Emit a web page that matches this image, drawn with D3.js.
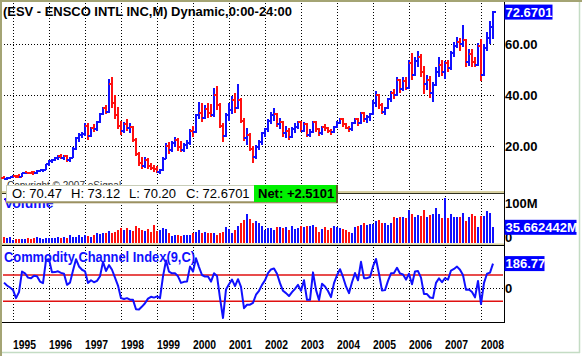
<!DOCTYPE html>
<html><head><meta charset="utf-8">
<script src="https://cdn.jsdelivr.net/npm/d3@7"></script>
<style>
html,body{margin:0;padding:0;background:#fff;}
svg{display:block;}
text{font-family:"Liberation Sans",Arial,sans-serif;}
</style></head><body>
<svg id="c" width="582" height="356"></svg>
<script>
// ---- data (monthly bars, Oct 1994 .. May 2008) ----
const firstMonth = [1994, 9];
const openP = [7.6,7.1,7.4,
7.8,8.3,8.2,8.0,9.2,9.6,9.4,9.6,9.3,10.2,10.4,10.6,
12.8,14.2,14.6,15.2,16.0,15.2,16.0,14.4,15.4,19.0,23.0,24.2,
24.8,28.0,24.0,27.0,26.5,29.5,32.5,35.0,33.5,44.5,37.0,32.0,
28.0,26.0,28.5,27.0,27.5,22.5,17.0,13.5,12.0,14.5,12.0,11.5,
11.0,9.8,10.5,15.0,20.0,18.5,21.0,22.5,19.5,18.5,20.5,21.0,
26.0,25.5,32.0,33.0,31.0,34.5,33.0,32.0,40.0,36.0,28.0,24.0,
32.0,34.0,38.0,35.0,38.0,30.0,23.0,24.5,19.0,15.5,19.5,21.5,
25.0,26.5,30.0,32.0,32.5,28.5,29.5,25.0,26.0,23.5,26.5,27.5,
29.5,26.0,28.5,24.5,25.5,29.5,26.5,25.0,27.5,27.0,26.0,25.5,
27.5,29.0,30.5,28.5,27.0,26.5,29.0,30.5,29.0,33.0,30.5,31.5,
32.5,37.0,40.0,36.0,33.5,35.0,38.5,41.0,40.0,46.0,42.5,45.5,
43.0,52.5,48.0,53.5,55.0,49.0,44.5,46.0,41.0,44.0,49.0,52.0,
49.0,52.5,50.5,56.5,59.5,61.0,60.0,61.5,53.0,56.0,53.0,52.0,
59.5,48.0,58.5,62.5,67.0];
const highP = [8.3,7.7,8.0,
8.6,8.5,8.8,9.4,9.8,9.9,9.8,10.0,10.4,10.6,10.8,13.0,
14.5,15.0,15.6,16.4,16.8,16.5,16.6,15.8,19.5,23.5,25.0,25.5,
29.0,29.0,27.5,28.5,30.0,33.0,35.5,36.0,46.2,47.2,40.0,35.5,
30.0,29.5,30.5,29.0,28.0,23.0,17.5,15.5,15.5,15.2,13.5,12.5,
12.2,11.0,15.5,21.0,21.5,22.0,23.5,23.0,22.0,21.0,22.5,26.5,
28.0,32.5,37.5,37.0,36.0,37.0,36.5,43.0,43.5,37.0,29.0,33.0,
37.0,39.5,41.0,44.5,39.0,31.0,27.0,25.0,20.0,20.5,22.5,25.5,
27.0,30.5,33.5,35.0,33.0,31.0,30.0,28.0,27.0,27.5,29.0,30.0,
30.0,29.5,29.0,26.5,30.0,30.0,27.0,28.0,28.5,27.5,26.5,28.0,
30.0,31.0,31.0,29.0,28.0,29.5,31.0,31.0,33.5,33.5,32.0,33.0,
38.0,41.5,40.5,37.0,35.5,39.0,41.5,42.5,47.0,46.5,47.0,47.0,
54.0,56.5,55.0,57.5,56.0,51.5,48.0,47.5,45.0,51.0,55.0,54.0,
53.5,54.0,57.5,61.0,63.0,62.5,67.5,62.0,58.0,58.0,55.0,60.5,
62.0,60.0,65.0,69.0,73.12];
const lowP = [6.9,6.8,7.0,
7.5,7.6,7.8,7.9,8.8,8.9,8.8,9.0,9.1,9.6,9.8,10.4,
12.2,13.4,14.0,14.6,14.8,14.6,13.8,13.9,15.2,18.6,21.5,23.0,
24.0,22.5,23.5,25.5,26.0,29.0,32.0,32.5,33.0,35.0,30.5,26.5,
24.5,25.0,26.0,25.0,21.5,16.0,12.0,11.0,11.5,11.0,10.5,9.8,
9.5,9.0,10.2,14.8,17.0,17.5,19.5,18.0,17.5,17.5,19.0,20.5,
23.5,25.0,30.5,29.5,30.5,31.0,31.5,31.5,34.0,27.0,21.5,23.5,
30.0,32.5,33.0,34.5,29.0,22.0,20.5,18.0,13.5,15.0,18.5,20.5,
23.5,25.5,28.5,30.0,27.5,26.5,23.5,23.0,22.5,23.0,25.0,26.5,
25.5,25.5,23.5,23.5,25.0,25.5,24.0,24.5,26.0,25.0,24.5,25.0,
27.0,28.5,27.5,26.5,25.5,26.0,28.5,28.0,28.5,29.5,29.0,30.0,
32.0,35.5,34.5,32.5,32.0,34.5,37.5,38.5,39.5,41.0,41.5,42.0,
42.5,46.0,47.5,51.0,47.0,40.5,42.0,39.0,37.5,43.5,47.0,47.5,
46.5,49.0,50.0,55.0,58.5,57.5,59.0,51.0,51.5,51.0,51.0,51.5,
45.5,47.5,57.5,60.0,62.0];
const closeP = [7.1,7.4,7.8,
8.3,7.9,8.0,9.2,9.5,9.2,9.1,9.3,10.2,10.4,10.6,12.8,
14.2,14.6,15.2,15.8,15.2,16.0,14.4,15.4,19.0,23.0,24.2,24.8,
28.0,24.0,27.0,26.5,29.5,32.5,35.0,33.5,44.5,37.0,32.0,28.0,
26.0,28.5,27.0,27.5,22.5,17.0,13.5,12.0,14.5,12.0,11.5,11.0,
9.8,10.5,15.0,20.0,18.5,21.0,22.5,19.5,18.5,20.5,21.0,26.0,
25.5,32.0,33.0,31.0,34.5,33.0,32.0,40.0,36.0,28.0,24.0,32.0,
34.0,38.0,35.0,38.0,30.0,23.0,24.5,19.0,15.5,19.5,21.5,25.0,
26.5,30.0,32.0,32.5,28.5,29.5,25.0,26.0,23.5,26.5,27.5,29.5,
26.0,28.5,24.5,25.5,29.5,26.5,25.0,27.5,27.0,26.0,25.5,27.5,
29.0,30.5,28.5,27.0,26.5,29.0,30.5,29.0,33.0,30.5,31.5,32.5,
37.0,40.0,36.0,33.5,35.0,38.5,41.0,40.0,46.0,42.5,45.5,43.0,
52.5,48.0,53.5,55.0,49.0,44.5,46.0,41.0,44.0,49.0,52.0,49.0,
52.5,50.5,56.5,59.5,61.0,60.0,61.5,53.0,56.0,53.0,52.0,59.5,
48.0,58.5,62.5,67.0,72.6701];
const volumeM = [13,12,14,
7,8,8,9,10,11,9,11,13,11,9,11,
11,11,12,13,11,14,11,18,14,13,18,14,
18,16,14,18,22,20,23,22,27,23,26,30,
33,30,33,30,27,39,33,30,27,32,26,41,
27,30,33,32,22,16,18,18,16,18,18,18,
22,26,30,22,26,23,22,22,18,22,26,36,
31,23,30,39,45,52,65,54,45,51,46,39,
30,33,33,30,37,37,33,37,30,39,31,33,
39,36,39,39,41,37,25,31,36,30,33,39,
36,33,31,30,26,23,36,39,42,45,42,43,
43,50,52,45,45,42,46,60,56,60,58,56,
75,67,60,64,61,75,60,64,67,79,66,56,
103,56,67,60,60,60,69,51,60,65,61,37,
61,61,73,69,35.662442];
const cciValues = [42,20,5,
-13,-76,-30,126,113,80,75,95,90,50,38,214,
220,120,122,128,116,110,25,42,135,220,165,140,
128,40,60,45,55,90,200,130,175,140,80,20,
-76,-83,-76,-88,-89,-160,-162,-140,-115,-80,-66,-72,
-63,-76,90,210,125,113,113,90,40,48,50,164,
126,227,160,100,88,88,50,113,93,-76,-227,-10,
30,65,15,68,10,-152,-126,-126,-112,-50,-20,25,
60,115,142,150,110,38,-20,-38,-60,-30,-5,25,
-20,60,-89,-89,120,-13,-90,33,13,-22,-68,38,
98,144,85,13,-38,45,115,60,200,76,76,85,
165,222,110,-18,-15,55,113,116,155,112,104,65,
110,30,126,130,80,-45,-45,-71,-76,40,75,45,
76,65,134,146,164,140,100,-13,-10,-30,-70,55,
-121,40,110,118,186.77];
const yearLabels = ["1995","1996","1997","1998","1999","2000","2001","2002","2003","2004","2005","2006","2007","2008"];
const priceTicks = [20, 40, 60];
const volumeTicks = [{v:100, label:"100M"}, {v:0, label:"0"}];
const cciLevels = [100, -100];
const lastPriceLabel = "72.6701";
const lastVolumeLabel = "35.662442M";
const lastCciLabel = "186.77";
const titleText = "(ESV - ENSCO INTL INC,M) Dynamic,0:00-24:00";
const quoteItems = [{k:"O:", v:"70.47"},{k:"H:", v:"73.12"},{k:"L:", v:"70.20"},{k:"C:", v:"72.6701"}];
const netText = "Net: +2.5101";

// ---- drawing ----
const svg = d3.select("#c");
const BLUE = "#1010ff", RED = "#ff1010";
const months = d3.utcMonth.range(new Date(Date.UTC(firstMonth[0], firstMonth[1], 1)), new Date(Date.UTC(2008, 5, 1)));
const bars = months.map((m, i) => ({m, o: openP[i], h: highP[i], l: lowP[i], c: closeP[i], v: volumeM[i], cci: cciValues[i]}));

const x = d3.scalePoint().domain(months).range([4, 493]);
const yP = d3.scaleLinear().domain([20, 60]).range([146, 44.3]);
const yV = d3.scaleLinear().domain([0, 100]).range([243, 199]);
const yC = d3.scaleLinear().domain([-100, 100]).range([301.3, 275]);
const px = d => Math.round(x(d));
const yearX = yearLabels.map(y => px(new Date(Date.UTC(+y, 0, 1))));

svg.append("rect").attr("width", 582).attr("height", 356).attr("fill", "#fff");

// outer frame
svg.append("rect").attr("x", 0).attr("y", 0).attr("width", 2).attr("height", 356).attr("fill", "#a4a474");
svg.append("rect").attr("x", 0).attr("y", 0).attr("width", 582).attr("height", 2).attr("fill", "#a4a474");
svg.append("line").attr("x1", 579.5).attr("x2", 579.5).attr("y1", 2).attr("y2", 353).attr("stroke", "#c4dcc4").attr("stroke-width", 1.5);
svg.append("line").attr("x1", 2).attr("x2", 580).attr("y1", 352.5).attr("y2", 352.5).attr("stroke", "#c4dcc4").attr("stroke-width", 1.5);

const dotted = (g, x1, y1, x2, y2) => g.append("line")
  .attr("x1", x1).attr("y1", y1).attr("x2", x2).attr("y2", y2)
  .attr("stroke", "#000").attr("stroke-width", 1).attr("stroke-dasharray", "1,2");

// grid
const grid = svg.append("g");
yearX.forEach(xx => {
  dotted(grid, xx + 0.5, 3, xx + 0.5, 191);
  dotted(grid, xx + 0.5, 196, xx + 0.5, 243);
  dotted(grid, xx + 0.5, 247, xx + 0.5, 325);
});
priceTicks.forEach(t => { const yy = Math.round(yP(t)) + 0.5; dotted(grid, 4, yy, 495, yy); });
dotted(grid, 4, Math.round(yV(100)) + 0.5, 495, Math.round(yV(100)) + 0.5);
dotted(grid, 4, Math.round(yC(0)) + 0.5, 503, Math.round(yC(0)) + 0.5);

// price OHLC bars
const pg = svg.append("g");
bars.forEach(b => {
  const xi = px(b.m), col = b.c >= b.o ? BLUE : RED;
  const yh = yP(b.h), yl = yP(b.l);
  pg.append("rect").attr("x", xi - 1).attr("y", Math.round(yh)).attr("width", 2).attr("height", Math.max(2, Math.round(yl) - Math.round(yh))).attr("fill", col);
  pg.append("rect").attr("x", xi - 3).attr("y", Math.round(yP(b.o)) - 1).attr("width", 2).attr("height", 2).attr("fill", col);
  pg.append("rect").attr("x", xi + 1).attr("y", Math.round(yP(b.c)) - 1).attr("width", 2).attr("height", 2).attr("fill", col);
});

// volume
const vg = svg.append("g");
vg.append("text").attr("x", 4).attr("y", 208).attr("font-size", 14).attr("font-weight", "bold").attr("fill", BLUE).text("Volume");
bars.forEach(b => {
  const xi = px(b.m), col = b.c >= b.o ? BLUE : RED;
  const yt = Math.round(yV(b.v));
  vg.append("rect").attr("x", xi - 1).attr("y", yt).attr("width", 2).attr("height", 243 - yt).attr("fill", col);
});

// CCI
const cg = svg.append("g");
cciLevels.forEach(l => cg.append("line").attr("x1", 3).attr("x2", 503).attr("y1", yC(l)).attr("y2", yC(l)).attr("stroke", "#e01010").attr("stroke-width", 1.4));
cg.append("text").attr("x", 4).attr("y", 261.5).attr("font-size", 14).attr("font-weight", "bold").attr("fill", BLUE)
  .attr("textLength", 191).attr("lengthAdjust", "spacingAndGlyphs").text("Commodity Channel Index(9,C)");
cg.append("path").datum(bars).attr("fill", "none").attr("stroke", BLUE).attr("stroke-width", 2).attr("stroke-linejoin", "round")
  .attr("d", d3.line().x(b => px(b.m)).y(b => yC(b.cci)));

// separators and axes
svg.append("rect").attr("x", 2).attr("y", 191).attr("width", 502).attr("height", 2).attr("fill", "#d8d0a0");
svg.append("line").attr("x1", 2).attr("x2", 504).attr("y1", 193.5).attr("y2", 193.5).attr("stroke", "#303020");
svg.append("rect").attr("x", 2).attr("y", 243.5).attr("width", 502).attr("height", 1.5).attr("fill", "#d8d0a0");
svg.append("line").attr("x1", 2).attr("x2", 504).attr("y1", 245.5).attr("y2", 245.5).attr("stroke", "#000");
svg.append("line").attr("x1", 2).attr("x2", 504).attr("y1", 322.5).attr("y2", 322.5).attr("stroke", "#000");
svg.append("line").attr("x1", 504.5).attr("x2", 504.5).attr("y1", 2).attr("y2", 323).attr("stroke", "#000");

// year labels
svg.append("g").selectAll("text").data(yearLabels).join("text")
  .attr("x", (d, i) => yearX[i]).attr("y", 349).attr("font-size", 12.5).attr("font-weight", "bold").attr("fill", "#000")
  .attr("textLength", 23).attr("lengthAdjust", "spacingAndGlyphs").text(d => d);

// right-hand labels
const rl = svg.append("g").attr("font-size", 13).attr("font-weight", "bold");
priceTicks.forEach(t => rl.append("text").attr("x", 505).attr("y", yP(t) + 4.7).attr("fill", "#000").text(d3.format(".2f")(t)));
rl.append("text").attr("x", 505).attr("y", yV(100) + 9).attr("fill", "#000").text(volumeTicks[0].label);
rl.append("text").attr("x", 505).attr("y", 242).attr("fill", "#000").text(volumeTicks[1].label);
rl.append("text").attr("x", 505).attr("y", yC(0) + 4.7).attr("fill", "#000").text("0");
const tag = (yy, w, txt) => {
  rl.append("rect").attr("x", 504.5).attr("y", yy - 7.5).attr("width", w).attr("height", 15).attr("fill", "#0000ff");
  rl.append("text").attr("x", 505.5).attr("y", yy + 4.7).attr("fill", "#fff").text(txt);
};
tag(yP(closeP[closeP.length - 1]), 48, lastPriceLabel);
tag(yV(volumeM[volumeM.length - 1]), 72, lastVolumeLabel);
tag(yC(cciValues[cciValues.length - 1]), 40, lastCciLabel);

// title
svg.append("text").attr("x", 3).attr("y", 16).attr("font-size", 13).attr("font-weight", "bold").attr("fill", "#000")
  .attr("textLength", 289).attr("lengthAdjust", "spacingAndGlyphs").text(titleText);

// copyright + quote box
svg.append("text").attr("x", 7).attr("y", 189).attr("font-size", 10).attr("fill", "#333").text("Copyright \u00a9 2007 eSignal");
const qb = svg.append("g");
qb.append("rect").attr("x", 6.5).attr("y", 185.5).attr("width", 331).attr("height", 16).attr("fill", "#fff").attr("stroke", "#c8cdb8");
qb.append("rect").attr("x", 6).attr("y", 201.5).attr("width", 332).attr("height", 1.8).attr("fill", "#9c9060");
qb.append("rect").attr("x", 254).attr("y", 185).attr("width", 83).attr("height", 17).attr("fill", "#00f000");
qb.append("rect").attr("x", 336).attr("y", 185).attr("width", 2).attr("height", 18).attr("fill", "#605828");
const qx = [12, 71, 129, 186];
quoteItems.forEach((q, i) => qb.append("text").attr("x", qx[i]).attr("y", 197.5).attr("font-size", 13).attr("fill", "#000").text(q.k + " " + q.v));
qb.append("text").attr("x", 258).attr("y", 197.5).attr("font-size", 13).attr("font-weight", "bold").attr("fill", "#000").text(netText);
</script>
</body></html>
